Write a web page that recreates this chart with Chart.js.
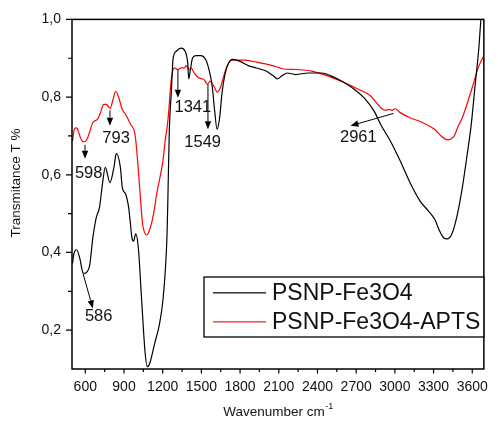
<!DOCTYPE html>
<html>
<head>
<meta charset="utf-8">
<script src="https://cdn.jsdelivr.net/npm/chart.js@4.4.1/dist/chart.umd.min.js"></script>
<style>
  html, body { margin: 0; padding: 0; background: #fff; }
  canvas { display: block; }
</style>
</head>
<body>
<canvas id="ftir" width="498" height="426"></canvas>
<script>
// FTIR spectra of the bare and APTS-functionalised particles
const fe3o4Wavenumber = [
  501, 512, 533, 558, 583, 596, 613, 634, 659, 685, 710, 733, 755, 791, 822, 841, 872, 887, 913, 936,
  949, 961, 974, 991, 1012, 1037, 1062, 1080, 1100, 1138, 1176, 1202, 1222, 1234, 1240, 1252, 1267, 1280,
  1305, 1343, 1374, 1394, 1402, 1415, 1432, 1457, 1495, 1533, 1559, 1584, 1602, 1622, 1643, 1660, 1685,
  1711, 1744, 1799, 1863, 1926, 2002, 2053, 2091, 2129, 2167, 2230, 2331, 2433, 2509, 2610, 2686, 2762,
  2839, 2889, 2965, 3041, 3117, 3194, 3257, 3308, 3346, 3378, 3409, 3447, 3485, 3523, 3561, 3586, 3599,
  3624, 3650, 3667, 3690
];
const fe3o4Transmittance = [
  0.372, 0.397, 0.407, 0.384, 0.347, 0.346, 0.350, 0.367, 0.439, 0.490, 0.516, 0.576, 0.619, 0.580, 0.619,
  0.655, 0.619, 0.567, 0.550, 0.516, 0.477, 0.439, 0.429, 0.448, 0.409, 0.277, 0.149, 0.106, 0.115, 0.166,
  0.217, 0.277, 0.362, 0.448, 0.533, 0.721, 0.811, 0.897, 0.918, 0.926, 0.918, 0.888, 0.847, 0.871, 0.901,
  0.907, 0.907, 0.897, 0.871, 0.828, 0.768, 0.717, 0.751, 0.811, 0.862, 0.888, 0.897, 0.892, 0.881, 0.875,
  0.867, 0.856, 0.847, 0.856, 0.862, 0.858, 0.862, 0.862, 0.854, 0.837, 0.820, 0.798, 0.764, 0.730, 0.687,
  0.636, 0.580, 0.533, 0.508, 0.486, 0.456, 0.438, 0.435, 0.452, 0.499, 0.567, 0.653, 0.713, 0.751, 0.837,
  0.922, 0.999, 1.07
];

const aptsWavenumber = [
  501, 512, 524, 539, 558, 577, 594, 611, 634, 657, 695, 717, 743, 763, 793, 812, 836, 858, 887, 915,
  951, 986, 999, 1012, 1029, 1044, 1060, 1075, 1090, 1113, 1138, 1151, 1174, 1202, 1219, 1240, 1253, 1265,
  1278, 1288, 1318, 1343, 1369, 1381, 1407, 1419, 1445, 1483, 1521, 1546, 1567, 1597, 1622, 1647, 1673,
  1698, 1736, 1825, 1926, 2053, 2129, 2230, 2357, 2483, 2610, 2737, 2813, 2846, 2889, 2927, 2953, 2978,
  3003, 3041, 3117, 3219, 3308, 3358, 3409, 3460, 3492, 3523, 3599, 3650, 3688
];
const aptsTransmittance = [
  0.687, 0.713, 0.721, 0.718, 0.700, 0.686, 0.685, 0.690, 0.710, 0.734, 0.743, 0.759, 0.781, 0.781, 0.771,
  0.790, 0.815, 0.800, 0.768, 0.754, 0.730, 0.703, 0.662, 0.610, 0.533, 0.474, 0.451, 0.445, 0.451, 0.474,
  0.516, 0.546, 0.585, 0.636, 0.687, 0.738, 0.790, 0.841, 0.867, 0.875, 0.871, 0.875, 0.875, 0.881, 0.871,
  0.875, 0.862, 0.849, 0.845, 0.833, 0.841, 0.828, 0.813, 0.824, 0.854, 0.879, 0.895, 0.895, 0.890, 0.881,
  0.873, 0.871, 0.867, 0.854, 0.837, 0.817, 0.803, 0.790, 0.773, 0.766, 0.768, 0.766, 0.770, 0.760, 0.747,
  0.734, 0.717, 0.700, 0.690, 0.700, 0.726, 0.747, 0.824, 0.879, 0.905
];

const seriesNames = ['PSNP-Fe3O4', 'PSNP-Fe3O4-APTS'];
const seriesColors = ['#000000', '#ff0000'];

// axis ticks
const xTickValues = [600, 900, 1200, 1500, 1800, 2100, 2400, 2700, 3000, 3300, 3600];
const xMinorTicks = [750, 1050, 1350, 1650, 1950, 2250, 2550, 2850, 3150, 3450];
const yTickValues = [0.2, 0.4, 0.6, 0.8, 1.0];
const yMinorTicks = [0.3, 0.5, 0.7, 0.9];

// band assignments: arrow from -> to, label centred at "at" (data coordinates)
const bandMarks = [
  { text: '598',  from: [598, 0.677],  to: [598, 0.641],  at: [626, 0.603] },
  { text: '793',  from: [791, 0.766],  to: [791, 0.726],  at: [839, 0.694] },
  { text: '1341', from: [1318, 0.871], to: [1318, 0.798], at: [1434, 0.773] },
  { text: '1549', from: [1551, 0.833], to: [1551, 0.717], at: [1510, 0.683] },
  { text: '2961', from: [2990, 0.758], to: [2656, 0.726], at: [2717, 0.697] },
  { text: '586',  from: [583, 0.345],  to: [659, 0.256],  at: [704, 0.234] }
];

const FONT = '"Liberation Sans", Arial, Helvetica, sans-serif';

function zip(xs, ys) { return xs.map((x, i) => ({ x, y: ys[i] })); }

function arrow(ctx, x1, y1, x2, y2) {
  const ang = Math.atan2(y2 - y1, x2 - x1);
  const len = 8, half = 3.2;
  const bx = x2 - Math.cos(ang) * len, by = y2 - Math.sin(ang) * len;
  ctx.beginPath();
  ctx.moveTo(x1, y1);
  ctx.lineTo(bx, by);
  ctx.stroke();
  ctx.beginPath();
  ctx.moveTo(x2, y2);
  ctx.lineTo(bx - Math.sin(ang) * half, by + Math.cos(ang) * half);
  ctx.lineTo(bx + Math.sin(ang) * half, by - Math.cos(ang) * half);
  ctx.closePath();
  ctx.fill();
}

const decor = {
  id: 'decor',
  afterDatasetsDraw(chart) {
    const { ctx, chartArea: a, scales: { x, y } } = chart;
    ctx.save();

    // plot frame
    ctx.strokeStyle = '#000';
    ctx.lineWidth = 1.5;
    ctx.strokeRect(a.left, a.top, a.right - a.left, a.bottom - a.top);

    // outward tick marks
    ctx.lineWidth = 1.2;
    ctx.beginPath();
    xTickValues.forEach(v => { const p = x.getPixelForValue(v); ctx.moveTo(p, a.bottom); ctx.lineTo(p, a.bottom + 4.5); });
    xMinorTicks.forEach(v => { const p = x.getPixelForValue(v); ctx.moveTo(p, a.bottom); ctx.lineTo(p, a.bottom + 3); });
    yTickValues.forEach(v => { const p = y.getPixelForValue(v); ctx.moveTo(a.left, p); ctx.lineTo(a.left - 6, p); });
    yMinorTicks.forEach(v => { const p = y.getPixelForValue(v); ctx.moveTo(a.left, p); ctx.lineTo(a.left - 4, p); });
    ctx.stroke();

    // band arrows and wavenumbers
    ctx.strokeStyle = '#000';
    ctx.fillStyle = '#000';
    ctx.lineWidth = 1;
    bandMarks.forEach(m => {
      arrow(ctx,
        x.getPixelForValue(m.from[0]), y.getPixelForValue(m.from[1]),
        x.getPixelForValue(m.to[0]), y.getPixelForValue(m.to[1]));
    });
    ctx.fillStyle = '#111';
    ctx.font = '16.5px ' + FONT;
    ctx.textAlign = 'center';
    ctx.textBaseline = 'middle';
    bandMarks.forEach(m => {
      ctx.fillText(m.text, x.getPixelForValue(m.at[0]), y.getPixelForValue(m.at[1]));
    });

    // legend box
    const lx = 204, ly = 277, lw = a.right - lx, lh = 60;
    ctx.fillStyle = '#fff';
    ctx.fillRect(lx, ly, lw, lh);
    ctx.strokeStyle = '#000';
    ctx.lineWidth = 1.3;
    ctx.strokeRect(lx, ly, lw, lh);
    ctx.font = '23px ' + FONT;
    ctx.textAlign = 'left';
    ctx.textBaseline = 'middle';
    seriesNames.forEach((name, i) => {
      const cy = Math.round(ly + 16 + i * 28.5);
      ctx.fillStyle = seriesColors[i];
      ctx.globalAlpha = i === 0 ? 0.75 : 0.7;
      ctx.fillRect(213, cy - 1, 53, 1.6);
      ctx.globalAlpha = 1;
      ctx.fillStyle = '#111';
      ctx.fillText(name, 272, cy + 1);
    });

    // axis titles
    ctx.fillStyle = '#111';
    ctx.font = '13.5px ' + FONT;
    ctx.textBaseline = 'alphabetic';
    ctx.textAlign = 'left';
    const main = 'Wavenumber cm';
    const mw = ctx.measureText(main).width;
    ctx.font = '9px ' + FONT;
    const sw = ctx.measureText('-1').width;
    const sx = (a.left + a.right) / 2 - (mw + sw) / 2;
    ctx.font = '13.5px ' + FONT;
    ctx.fillText(main, sx, 416);
    ctx.font = '9px ' + FONT;
    ctx.fillText('-1', sx + mw + 0.5, 409);

    ctx.font = '13.5px ' + FONT;
    ctx.translate(20, 183);
    ctx.rotate(-Math.PI / 2);
    ctx.textAlign = 'center';
    ctx.fillText('Transmitance T %', 0, 0);

    ctx.restore();
  }
};

new Chart(document.getElementById('ftir'), {
  type: 'line',
  data: {
    datasets: seriesNames.map((name, i) => ({
      label: name,
      data: i === 0 ? zip(fe3o4Wavenumber, fe3o4Transmittance) : zip(aptsWavenumber, aptsTransmittance),
      borderColor: seriesColors[i],
      borderWidth: 1.2,
      pointRadius: 0,
      fill: false,
      cubicInterpolationMode: 'monotone'
    }))
  },
  options: {
    responsive: false,
    animation: false,
    devicePixelRatio: 1,
    layout: { padding: { top: 18, right: 6, left: 0, bottom: 0 } },
    plugins: { legend: { display: false }, tooltip: { enabled: false } },
    scales: {
      x: {
        type: 'linear',
        min: 497,
        max: 3690,
        grid: { display: false, drawTicks: false },
        border: { display: false },
        afterBuildTicks: s => { s.ticks = xTickValues.map(v => ({ value: v })); },
        afterFit: s => { s.height = 57; },
        ticks: {
          padding: 10,
          maxRotation: 0,
          autoSkip: false,
          color: '#111',
          font: { family: FONT, size: 14 },
          callback: v => String(v)
        }
      },
      y: {
        type: 'linear',
        min: 0.1,
        max: 1.0,
        grid: { display: false, drawTicks: false },
        border: { display: false },
        afterBuildTicks: s => { s.ticks = yTickValues.map(v => ({ value: v })); },
        afterFit: s => { s.width = 72; },
        ticks: {
          padding: 11,
          autoSkip: false,
          color: '#111',
          font: { family: FONT, size: 14 },
          callback: v => Number(v).toFixed(1).replace('.', ',')
        }
      }
    }
  },
  plugins: [decor]
});
</script>
</body>
</html>
